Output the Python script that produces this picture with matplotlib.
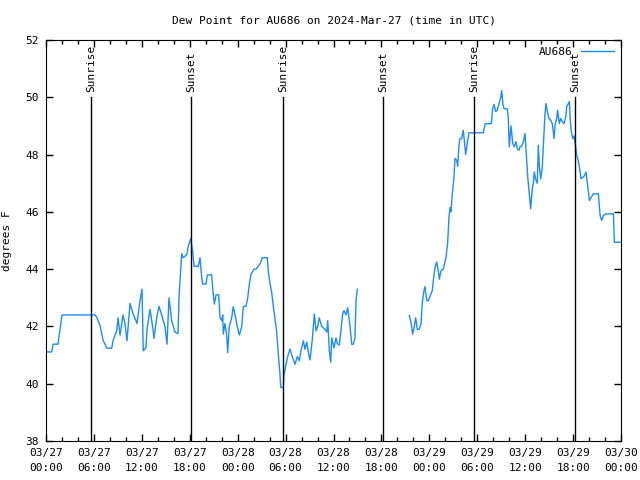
import numpy as np
import matplotlib
matplotlib.use("Agg")
import matplotlib.pyplot as plt
from matplotlib.ticker import MultipleLocator

# hours since 2024-03-27 00:00 UTC, dew point in F (nan = no data)
hours = [
    0.0, 0.71, 0.88, 1.50, 1.75, 2.0, 6.14, 6.35, 6.76, 7.14, 7.60, 8.23, 8.39, 8.85,
    9.02, 9.27, 9.64, 9.89, 10.14, 10.52, 10.89, 11.40, 11.77, 12.02, 12.18, 12.52,
    12.65, 13.02, 13.40, 13.52, 13.86, 14.15, 14.49, 14.90, 15.15, 15.40, 15.74,
    16.15, 16.53, 16.65, 16.99, 17.16, 17.62, 17.82, 18.12, 18.37, 18.53, 19.07,
    19.28, 19.50, 19.62, 20.04, 20.20, 20.75, 20.87, 21.08, 21.29, 21.63, 21.79,
    22.00, 22.13, 22.20, 22.41, 22.63, 22.75, 22.95, 23.25, 23.45, 23.67, 23.95,
    24.21, 24.51, 24.71, 25.04, 25.26, 25.46, 25.67, 26.05, 26.30, 26.80, 27.09,
    27.71, 27.84, 28.05, 28.26, 28.46, 28.68, 28.89, 29.09, 29.30, 29.39, 29.71,
    29.80, 30.05, 30.22, 30.55, 30.89, 31.18, 31.47, 31.72, 31.89, 32.22, 32.43,
    32.65, 32.85, 33.06, 33.35, 33.60, 33.81, 34.02, 34.22, 34.52, 34.94, 35.15,
    35.28, 35.48, 35.65, 35.78, 36.06, 36.31, 36.48, 36.73, 36.94, 37.15, 37.32,
    37.57, 37.78, 38.07, 38.28, 38.48, 38.69, 38.82, 38.98,
    42.0,
    45.49, 45.70, 45.92, 46.08, 46.29, 46.49, 46.74, 46.96, 47.12, 47.33, 47.46,
    47.67, 47.87, 48.08, 48.37, 48.50, 48.71, 48.92, 49.12, 49.25, 49.46, 49.75,
    50.09, 50.30, 50.46, 50.59, 50.71, 50.88, 51.09, 51.21, 51.43, 51.55, 51.71,
    51.84, 52.05, 52.25, 52.38, 52.55, 52.75, 52.96, 54.75, 55.00, 55.76, 55.93,
    56.10, 56.31, 56.51, 56.72, 56.93, 57.06, 57.22, 57.35, 57.76, 57.89, 58.01,
    58.23, 58.44, 58.64, 58.85, 59.02, 59.23, 59.35, 59.57, 59.77, 59.98, 60.19,
    60.32, 60.48, 60.69, 60.89, 61.02, 61.14, 61.35, 61.52, 61.65, 61.77, 61.95,
    62.15, 62.36, 62.48, 62.61, 62.77, 62.98, 63.19, 63.40, 63.61, 63.77, 63.95,
    64.07, 64.27, 64.45, 64.65, 64.86, 65.07, 65.20, 65.41, 65.53, 65.66, 65.78,
    65.96, 66.12, 66.29, 66.46, 66.63, 66.79, 67.00, 67.21, 67.41, 67.62, 67.84,
    68.04, 68.25, 68.54, 69.17, 69.38, 69.59, 69.79, 70.13, 71.05, 71.17, 71.89,
]
dewpoint = [
    41.11, 41.11, 41.38, 41.38, 41.88, 42.4, 42.4, 42.32, 42.03, 41.53, 41.24, 41.24, 41.5, 41.85,
    42.3, 41.7, 42.4, 42.1, 41.5, 42.8, 42.45, 42.1, 42.9, 43.3, 41.15, 41.25,
    41.9, 42.6, 41.9, 41.58, 42.3, 42.7, 42.4, 41.99, 41.38, 43.0, 42.2,
    41.8, 41.75, 43.0, 44.54, 44.4, 44.5, 44.8, 45.06, 44.6, 44.1, 44.1,
    44.4, 43.7, 43.48, 43.48, 43.8, 43.8, 43.3, 42.78, 43.1, 43.1, 42.32,
    42.2, 42.4, 41.73, 42.1, 41.68, 41.09, 42.0, 42.3, 42.69, 42.4, 42.0,
    41.7, 42.0, 42.7, 42.7, 43.0, 43.47, 43.83, 44.0, 44.0, 44.18, 44.4,
    44.4, 43.9, 43.5, 43.19, 42.7, 42.26, 41.79, 41.03, 40.33, 39.87, 39.87,
    40.33, 40.68, 40.9, 41.21, 40.9, 40.68, 40.95, 40.8, 41.1, 41.5, 41.2,
    41.45, 41.1, 40.83, 41.56, 42.43, 41.85, 42.0, 42.3, 42.0, 41.9, 41.8,
    42.2, 41.15, 40.75, 41.6, 41.25, 41.6, 41.4, 41.35, 41.9, 42.45, 42.55,
    42.4, 42.65, 42.0, 41.38, 41.38, 41.6, 42.9, 43.3,
    np.nan,
    42.38, 42.15, 41.73, 41.95, 42.3, 41.9, 41.9, 42.1, 42.84, 43.25, 43.39,
    42.9, 42.9, 43.05, 43.25, 43.6, 44.07, 44.25, 43.95, 43.65, 43.95, 44.0,
    44.42, 44.94, 45.82, 46.15, 46.0, 46.63, 47.22, 47.86, 47.8, 47.6, 48.33,
    48.56, 48.56, 48.85, 48.5, 48.0, 48.4, 48.76, 48.76, 49.08, 49.08, 49.61,
    49.75, 49.5, 49.55, 49.78, 49.98, 50.23, 49.75, 49.6, 49.6, 49.26, 48.27,
    49.0, 48.4, 48.27, 48.45, 48.2, 48.15, 48.27, 48.3, 48.45, 48.73, 47.8,
    47.22, 46.75, 46.11, 46.8, 47.0, 47.39, 47.1, 47.0, 48.33, 47.6, 47.15,
    47.6, 48.73, 49.43, 49.78, 49.5, 49.26, 49.2, 49.08, 48.56, 49.08, 49.26,
    49.55, 49.08, 49.26, 49.15, 49.08, 49.3, 49.67, 49.78, 49.85, 49.15, 48.79,
    48.56, 48.65, 48.33, 47.97, 47.8, 47.57, 47.16, 47.2, 47.26, 47.39, 46.87,
    46.4, 46.5, 46.63, 46.63, 45.88, 45.7, 45.88, 45.93, 45.93, 44.94, 44.94,
]

# sunrise / sunset marks (hours since start)
sun_hours = [5.67, 18.2, 29.71, 42.24, 53.63, 66.24]
sun_labels = ["Sunrise", "Sunset", "Sunrise", "Sunset", "Sunrise", "Sunset"]

tick_hours = list(range(0, 73, 6))
tick_labels = ["03/27\n00:00", "03/27\n06:00", "03/27\n12:00", "03/27\n18:00",
               "03/28\n00:00", "03/28\n06:00", "03/28\n12:00", "03/28\n18:00",
               "03/29\n00:00", "03/29\n06:00", "03/29\n12:00", "03/29\n18:00",
               "03/30\n00:00"]

plt.rcParams['font.family'] = ['DejaVu Sans Mono']
plt.rcParams['font.size'] = 8

fig = plt.figure(figsize=(6.4, 4.8), dpi=100)
ax = fig.add_axes([46/640, 1 - 441/480, 575/640, 401/480])

ax.plot(hours, dewpoint, color='#1a8cff', lw=1, label='AU686')

for h, lab in zip(sun_hours, sun_labels):
    ax.plot([h, h], [38, 50], color='black', lw=1)
    ax.text(h, 50.2, lab, rotation=90, ha='center', va='bottom', fontsize=8)

ax.set_xlim(0, 72)
ax.set_ylim(38, 52)
ax.set_xticks(tick_hours)
ax.set_xticklabels(tick_labels, linespacing=1.6)
ax.xaxis.set_minor_locator(MultipleLocator(2))
ax.set_yticks(range(38, 53, 2))
ax.tick_params(which='both', direction='in', top=True, right=True, width=1)
ax.tick_params(which='major', length=5, pad=5)
ax.tick_params(which='minor', length=3)
ax.set_ylabel('degrees F', labelpad=10)
ax.set_title('Dew Point for AU686 on 2024-Mar-27 (time in UTC)', fontsize=8, pad=12)

ax.legend(loc='upper right', frameon=False, markerfirst=False, handlelength=3,
          borderaxespad=0.2, fontsize=8)

fig.savefig('out.png', dpi=100)
